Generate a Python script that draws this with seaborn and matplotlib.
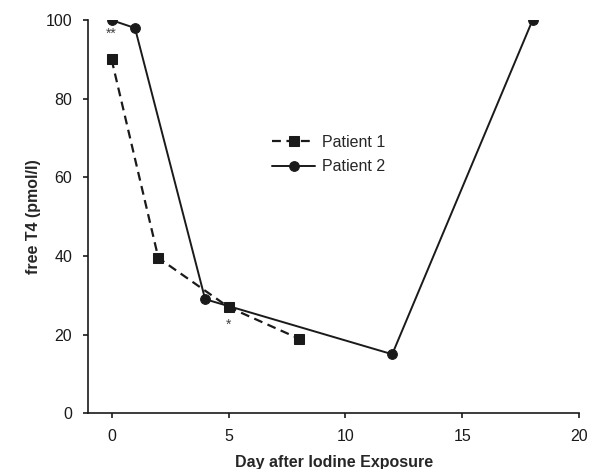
import matplotlib
matplotlib.use("Agg")
import matplotlib.pyplot as plt
import pandas as pd
import seaborn as sns

# values
days_p1 = [0, 2, 5, 8]
ft4_p1 = [90, 39.5, 27, 19]
days_p2 = [0, 1, 4, 12, 18]
ft4_p2 = [100, 98, 29, 15, 100]
x_ticks = [0, 5, 10, 15, 20]
y_ticks = [0, 20, 40, 60, 80, 100]

sns.set_style("ticks")
plt.rcParams["font.family"] = ["Liberation Sans", "DejaVu Sans"]

df1 = pd.DataFrame({"day": days_p1, "ft4": ft4_p1})
df2 = pd.DataFrame({"day": days_p2, "ft4": ft4_p2})

fig = plt.figure(figsize=(5.96, 4.69), dpi=100)
ax = fig.add_axes([0.148, 0.119, 0.824, 0.838])

sns.lineplot(data=df1, x="day", y="ft4", ax=ax, color="#1a1a1a", marker="s",
             markersize=7, linestyle=(0, (4, 2.5)), linewidth=1.6,
             markeredgecolor="#1a1a1a", label="Patient 1")
sns.lineplot(data=df2, x="day", y="ft4", ax=ax, color="#1a1a1a", marker="o",
             markersize=7, linewidth=1.4, markeredgecolor="#1a1a1a",
             label="Patient 2")

# significance marks
ax.annotate("**", xy=(0, 100), xytext=(0, -13), textcoords="offset points",
            ha="center", fontsize=10, color="#444444")
ax.annotate("*", xy=(5, 27), xytext=(0, -15.5), textcoords="offset points",
            ha="center", fontsize=10, color="#444444")

ax.set_xlim(-1, 20)
ax.set_ylim(0, 100)
ax.set_xticks(x_ticks)
ax.set_yticks(y_ticks)
ax.tick_params(labelsize=11.5, length=3.6, width=1.2, direction="out",
               colors="#1a1a1a", pad=8)
for s in ["left", "bottom"]:
    ax.spines[s].set_linewidth(1.2)
    ax.spines[s].set_color("#1a1a1a")
sns.despine(ax=ax)

ax.set_xlabel("Day after Iodine Exposure", fontsize=11.5, fontweight="bold",
              labelpad=8)
ax.set_ylabel("free T4 (pmol/l)", fontsize=11.5, fontweight="bold", labelpad=3)

ax.legend(loc="upper left", bbox_to_anchor=(0.345, 0.745), frameon=False,
          fontsize=11.5, handlelength=2.7, handletextpad=0.4, labelspacing=0.6)

fig.savefig("out.png", dpi=100)
